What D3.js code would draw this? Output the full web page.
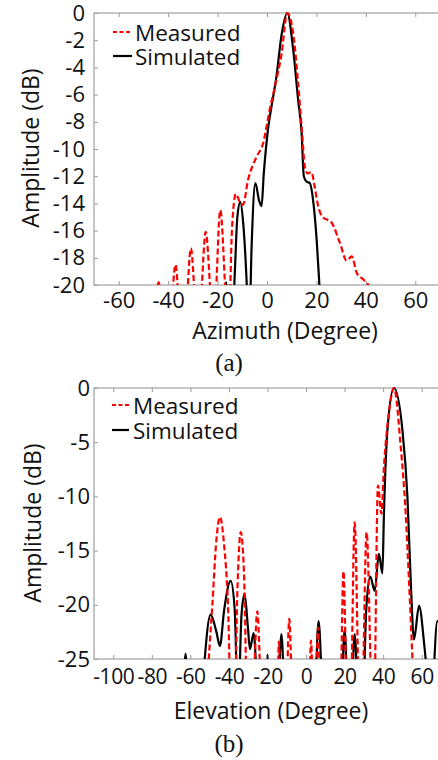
<!DOCTYPE html>
<html>
<head>
<meta charset="utf-8">
<script src="https://cdn.jsdelivr.net/npm/d3@7"></script>
<style>
  body { margin: 0; background: #fff; }
  svg { display: block; }
  .tick text { font-family: "Open Sans", sans-serif; font-size: 22px; fill: #111; }
  .xb .tick text { font-size: 21px; letter-spacing: -0.4px; }
  .lbl { font-family: "Open Sans", sans-serif; font-size: 23px; fill: #111; }
  .leg { font-family: "Open Sans", sans-serif; font-size: 22.5px; fill: #111; }
  .cap { font-family: "Liberation Serif", "Times New Roman", serif; font-size: 25px; fill: #111; }
</style>
</head>
<body>
<div id="chart"></div>
<script>
// (a) azimuth cut
const azMeasDeg = [-45.5, -43.8, -42.3, -39.2, -37.0, -35.2, -33.0, -30.8, -28.5, -27.3, -24.8, -22.0, -21.3, -18.9, -16.0, -15.3, -14.2, -12.6, -11.0, -9.7, -7.7, -4.3, -1.6, 1.1, 3.2, 5.9, 8.2, 10.6, 12.6, 14.2, 15.3, 16.5, 18.0, 19.3, 20.7, 22.5, 24.4, 26.1, 29.5, 32.2, 34.3, 36.3, 39.0, 41.0, 43.0]
const azMeasDb = [-22, -19.8, -22, -22, -18.5, -22, -22, -17.3, -22, -22, -16.1, -22, -22, -14.5, -22, -22, -16.0, -13.3, -13.9, -14.1, -12.3, -10.6, -9.6, -7.1, -5.4, -3.0, 0, -1.5, -5.2, -8.8, -11.3, -11.8, -11.7, -12.8, -14.2, -15.0, -15.2, -15.4, -16.9, -18.2, -17.9, -19.1, -19.6, -20, -21.5]
const azSimDeg = [-17.6, -16.5, -15.5, -14.3, -13.0, -12.0, -10.8, -9.6, -8.3, -7.3, -6.2, -4.7, -3.2, -2.2, -1.3, -0.5, 0.5, 1.8, 3.8, 5.9, 8.2, 10.6, 12.6, 14.0, 14.9, 16.0, 17.3, 18.8, 20.1, 21.2, 22.5]
const azSimDb = [-22, -19.8, -22, -24, -19, -15, -13.9, -15.5, -19.5, -24, -17, -12.5, -13.8, -14.2, -11.8, -10.1, -8.4, -6.9, -4.7, -1.6, 0, -2.7, -6.4, -8.8, -12.0, -12.4, -12.5, -14.0, -16.7, -20, -24]
const azTicksX = [-60, -40, -20, 0, 20, 40, 60]
const azTicksY = [0, -2, -4, -6, -8, -10, -12, -14, -16, -18, -20]

// (b) elevation cut
const elMeasDeg = [-52.5, -48.6, -46.5, -44.7, -42.5, -40.5, -38.8, -37.2, -35.5, -33.9, -32.2, -30.4, -28.0, -25.3, -22.7, -15.0, -14.1, -13.0, -10.6, -8.7, -6.8, 1.2, 2.6, 3.8, 5.0, 6.2, 7.4, 17.6, 19.4, 21.4, 23.0, 25.2, 27.8, 28.9, 31.4, 34.5, 35.2, 37.3, 39.1, 40.4, 43.0, 45.6, 49.1, 51.7, 53.4, 55.2, 56.5]
const elMeasDb = [-30, -20, -14, -11.9, -14.5, -20, -30, -30, -18, -13.3, -17, -30, -30, -20.6, -30, -30, -23.4, -30, -30, -21.3, -30, -30, -23.3, -30, -30, -22.1, -30, -30, -16.9, -30, -30, -12.4, -30, -30, -13.3, -30, -30, -9.0, -11.6, -7.3, -2.3, 0, -5.4, -11.6, -17.8, -25, -30]
const elSimDeg = [-64, -62.5, -61, -54.5, -53, -49.5, -46.5, -44.7, -42.5, -39.1, -37, -35.3, -33.5, -31.9, -30.2, -29.1, -27.2, -24.4, -21, -20, -19, -15, -12.8, -10.6, 4.1, 6.5, 9.2, 17.9, 20.0, 22.0, 23.2, 25.2, 27.5, 29.3, 31.2, 33.3, 35.6, 37.8, 39.6, 40.4, 42.2, 45.6, 50, 52.6, 54.3, 56.0, 58.6, 61.5, 64.7, 68.1, 71]
const elSimDb = [-30, -24.5, -30, -30, -26, -20.9, -22.5, -23.8, -20.5, -17.8, -20.5, -30, -21, -19.0, -22, -24.1, -22.6, -30, -30, -24.6, -30, -30, -22.7, -30, -30, -21.5, -30, -30, -22.3, -30, -30, -22.7, -30, -30, -20.5, -17.4, -18.7, -15.3, -17.1, -11.6, -3.9, 0, -3.9, -10.1, -17.8, -23.2, -20.1, -24, -30, -21.5, -23]
const elTicksX = [-100, -80, -60, -40, -20, 0, 20, 40, 60]
const elTicksY = [0, -5, -10, -15, -20, -25]

const W = 438, H = 760
const svg = d3.select("#chart").append("svg").attr("width", W).attr("height", H)

function zip(a, b) { return a.map((v, i) => [v, b[i]]) }

function panel(o) {
    const x = d3.scaleLinear().domain(o.xDom).range([o.left, o.right])
    const y = d3.scaleLinear().domain(o.yDom).range([o.bottom, o.top])
    const g = svg.append("g")

    const clipId = "clip" + o.id
    svg.append("clipPath").attr("id", clipId).append("rect")
        .attr("x", o.left).attr("y", o.top - 2)
        .attr("width", o.right - o.left).attr("height", o.bottom - o.top + 2)

    // axes (ticks inward)
    g.append("g").attr("class", "x" + o.id).attr("transform", `translate(0,${o.bottom})`)
        .call(d3.axisBottom(x).tickValues(o.xTicks).tickSize(-4).tickPadding(o.xPad).tickFormat(d3.format("d")))
    g.append("g").attr("transform", `translate(0,${o.top})`)
        .call(d3.axisTop(x).tickValues(o.xTicks).tickSize(-4).tickFormat(""))
    g.append("g").attr("transform", `translate(${o.left},0)`)
        .call(d3.axisLeft(y).tickValues(o.yTicks).tickSize(-4).tickPadding(o.yPad).tickFormat(d3.format("d")))
    g.selectAll(".domain").remove()
    g.selectAll(".tick line").attr("stroke", "#9a9a9a")
    g.selectAll(".tick text").text(function() { return this.textContent.replace("−", "-") })

    g.append("rect").attr("x", o.left).attr("y", o.top)
        .attr("width", o.right - o.left).attr("height", o.bottom - o.top)
        .attr("fill", "none").attr("stroke", "#a0a0a0").attr("stroke-width", 1.2)

    const line = d3.line().x(d => x(d[0])).y(d => y(d[1])).curve(d3.curveMonotoneX)
    const plot = g.append("g").attr("clip-path", `url(#${clipId})`)
    plot.append("path").datum(zip(o.simDeg, o.simDb)).attr("d", line)
        .attr("fill", "none").attr("stroke", "#000").attr("stroke-width", 2.2)
    plot.append("path").datum(zip(o.measDeg, o.measDb)).attr("d", line)
        .attr("fill", "none").attr("stroke", "#ff0000").attr("stroke-width", 2.2)
        .attr("stroke-dasharray", "6,3")

    // legend
    const lg = g.append("g")
    lg.append("line").attr("x1", o.leg[0]).attr("x2", o.leg[1]).attr("y1", o.leg[3]).attr("y2", o.leg[3])
        .attr("stroke", "#ff0000").attr("stroke-width", 2.2).attr("stroke-dasharray", "4,2.5")
    lg.append("line").attr("x1", o.leg[0]).attr("x2", o.leg[1]).attr("y1", o.leg[4]).attr("y2", o.leg[4])
        .attr("stroke", "#000").attr("stroke-width", 2.2)
    lg.append("text").attr("class", "leg").attr("x", o.leg[2]).attr("y", o.leg[3])
        .attr("dominant-baseline", "central").text("Measured")
    lg.append("text").attr("class", "leg").attr("x", o.leg[2]).attr("y", o.leg[4])
        .attr("dominant-baseline", "central").text("Simulated")

    // labels
    g.append("text").attr("class", "lbl").attr("text-anchor", "middle")
        .attr("transform", `translate(${o.yLab[0]},${o.yLab[1]}) rotate(-90)`)
        .attr("dominant-baseline", "central").text("Amplitude (dB)")
    g.append("text").attr("class", "lbl").attr("text-anchor", "middle")
        .attr("x", o.xLab[0]).attr("y", o.xLab[1]).attr("dominant-baseline", "central").text(o.xTitle)
    g.append("text").attr("class", "cap").attr("text-anchor", "middle")
        .attr("x", o.cap[0]).attr("y", o.cap[1]).attr("dominant-baseline", "central").text(o.capText)
}

panel({
    id: "a", xDom: [-70, 70], yDom: [-20, 0], left: 94, right: 440, top: 13, bottom: 285,
    xTicks: azTicksX, yTicks: azTicksY, xPad: 7, yPad: 9,
    measDeg: azMeasDeg, measDb: azMeasDb, simDeg: azSimDeg, simDb: azSimDb,
    leg: [113, 132, 135, 32, 56], yLab: [30, 148], xLab: [285, 330], xTitle: "Azimuth (Degree)",
    cap: [229, 362], capText: "(a)"
})

panel({
    id: "b", xDom: [-110, 70], yDom: [-25, 0], left: 94, right: 441, top: 388, bottom: 659,
    xTicks: elTicksX, yTicks: elTicksY, xPad: 10, yPad: 4,
    measDeg: elMeasDeg, measDb: elMeasDb, simDeg: elSimDeg, simDb: elSimDb,
    leg: [112, 129, 133, 405, 430], yLab: [32, 523], xLab: [271, 710], xTitle: "Elevation (Degree)",
    cap: [229, 743], capText: "(b)"
})
</script>
</body>
</html>
